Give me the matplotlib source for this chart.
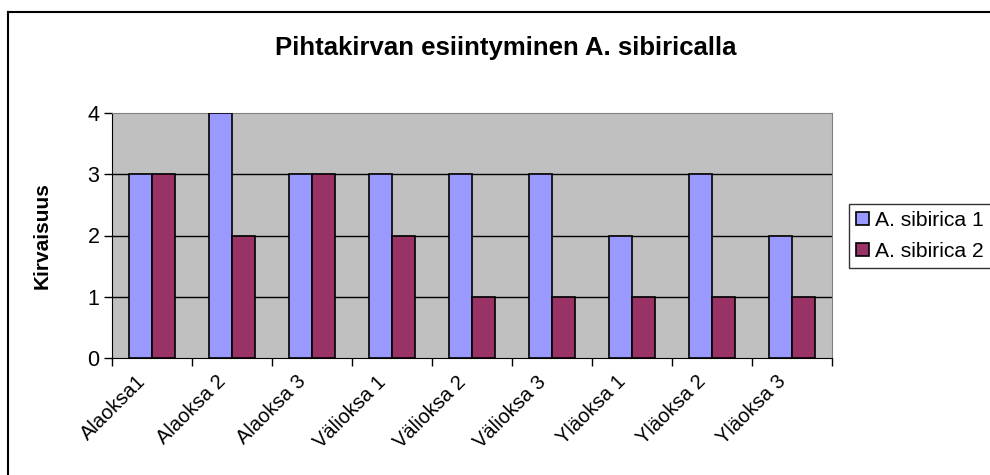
import numpy as np
import matplotlib.pyplot as plt
import matplotlib.transforms as mtransforms
from matplotlib.lines import Line2D

plt.rcParams['font.family'] = ['Liberation Sans', 'DejaVu Sans']

categories = ["Alaoksa1", "Alaoksa 2", "Alaoksa 3", "Välioksa 1", "Välioksa 2",
              "Välioksa 3", "Yläoksa 1", "Yläoksa 2", "Yläoksa 3"]
sib1 = [3, 4, 3, 3, 3, 3, 2, 3, 2]
sib2 = [3, 2, 3, 2, 1, 1, 1, 1, 1]

fig = plt.figure(figsize=(9.9, 4.75), dpi=100)
ax = fig.add_axes([112 / 990, 1 - 358 / 475, 720 / 990, 245 / 475])
ax.set_facecolor('#C0C0C0')

x = np.arange(len(categories))
w = 0.29
ax.bar(x - w / 2, sib1, w, color='#9999FF', edgecolor='black', linewidth=1.2,
       label='A. sibirica 1', zorder=3)
ax.bar(x + w / 2, sib2, w, color='#993366', edgecolor='black', linewidth=1.2,
       label='A. sibirica 2', zorder=3)

ax.set_xlim(-0.5, len(categories) - 0.5)
ax.set_ylim(0, 4)
ax.set_yticks([0, 1, 2, 3, 4])
for yv in [1, 2, 3]:
    ax.axhline(yv, color='black', linewidth=1, zorder=1)

ax.set_xticks(np.arange(len(categories) + 1) - 0.5)
ax.set_xticklabels([])
ax.set_xticks(x, minor=True)
ax.set_xticklabels(categories, minor=True, rotation=45, ha='right',
                   va='center', rotation_mode='anchor', fontsize=14.5)
ax.tick_params(axis='x', which='minor', length=0, pad=15)
ax.tick_params(axis='x', which='major', length=6, width=1, direction='out')
ax.tick_params(axis='y', length=6, width=1, labelsize=15.5, pad=3)

shift = mtransforms.ScaledTranslation(-9 / 100, 0, fig.dpi_scale_trans)
for lbl in ax.get_xticklabels(minor=True):
    lbl.set_transform(lbl.get_transform() + shift)

for s in ['top', 'right']:
    ax.spines[s].set_color('#808080')
ax.spines['left'].set_color('black')
ax.spines['bottom'].set_color('black')

ax.set_ylabel('Kirvaisuus', fontsize=15, fontweight='bold', labelpad=26)
fig.text(506 / 990, 1 - 48 / 475, 'Pihtakirvan esiintyminen A. sibiricalla',
         ha='center', va='center', fontsize=18.5, fontweight='bold')

leg = ax.legend(loc='center left', bbox_to_anchor=(849 / 990, 1 - 236 / 475),
                bbox_transform=fig.transFigure, fontsize=15.2, frameon=True,
                fancybox=False, edgecolor='black', handlelength=0.6,
                handleheight=0.6, handletextpad=0.3, borderpad=0.35,
                labelspacing=0.55, borderaxespad=0)
leg.get_frame().set_linewidth(1)

# outer chart border (left and top edges visible)
fig.add_artist(Line2D([8 / 990, 8 / 990], [0, 1 - 12 / 475], transform=fig.transFigure,
                      color='black', linewidth=1.5))
fig.add_artist(Line2D([8 / 990, 1], [1 - 12 / 475, 1 - 12 / 475], transform=fig.transFigure,
                      color='black', linewidth=1.5))

fig.savefig('out.png', dpi=100)
